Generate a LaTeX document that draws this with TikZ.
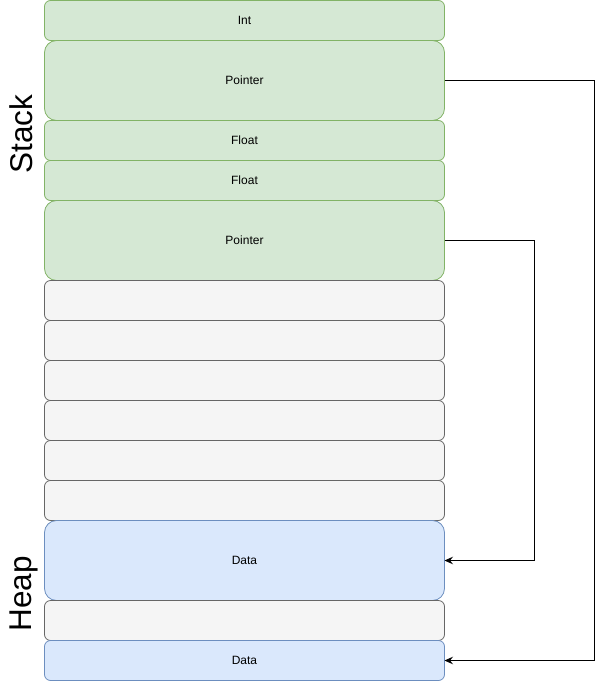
\documentclass[tikz,border=0pt]{standalone}
\usepackage{fontspec}
\setmainfont{Liberation Sans}
\usetikzlibrary{arrows.meta}
\definecolor{stackfill}{HTML}{D5E8D4}
\definecolor{stackline}{HTML}{82B366}
\definecolor{freefill}{HTML}{F5F5F5}
\definecolor{freeline}{HTML}{666666}
\definecolor{heapfill}{HTML}{DAE8FC}
\definecolor{heapline}{HTML}{6C8EBF}
\begin{document}
\begin{tikzpicture}[x=1pt,y=-1pt,
  cell/.style={line width=0.8pt, minimum width=400pt, inner sep=0pt, outer sep=0pt,
    font=\fontsize{12}{14}\selectfont, anchor=north},
  short/.style={minimum height=40pt, rounded corners=6pt},
  tall/.style={minimum height=80pt, rounded corners=12pt},
  stackcell/.style={cell, fill=stackfill, draw=stackline},
  freecell/.style={cell, fill=freefill, draw=freeline},
  heapcell/.style={cell, fill=heapfill, draw=heapline},
  region/.style={rotate=90, anchor=base, font=\fontsize{31.5}{36}\selectfont},
  conn/.style={line width=0.9pt, -{Stealth[length=8.5pt,width=7.5pt,inset=3pt]}}
]
\useasboundingbox (0,0) rectangle (603,681);

% stack frame
\node[stackcell, short] (int)  at (244.5,0.5)   {Int};
\node[stackcell, tall]  (ptrA) at (244.5,40.5)  {Pointer};
\node[stackcell, short] (fltA) at (244.5,120.5) {Float};
\node[stackcell, short] (fltB) at (244.5,160.5) {Float};
\node[stackcell, tall]  (ptrB) at (244.5,200.5) {Pointer};

% unused memory
\node[freecell, short] (freeA) at (244.5,280.5) {};
\node[freecell, short] (freeB) at (244.5,320.5) {};
\node[freecell, short] (freeC) at (244.5,360.5) {};
\node[freecell, short] (freeD) at (244.5,400.5) {};
\node[freecell, short] (freeE) at (244.5,440.5) {};
\node[freecell, short] (freeF) at (244.5,480.5) {};

% heap
\node[heapcell, tall]  (dataA) at (244.5,520.5) {Data};
\node[freecell, short] (freeG) at (244.5,600.5) {};
\node[heapcell, short] (dataB) at (244.5,640.5) {Data};

% region labels
\node[region] (stacklbl) at (32,134) {Stack};
\node[region] (heaplbl)  at (31,594) {Heap};

% pointers into the heap
\draw[conn] (ptrA.east) -- ++(149.5,0) |- (dataB.east);
\draw[conn] (ptrB.east) -- ++(90,0) |- (dataA.east);
\end{tikzpicture}
\end{document}
